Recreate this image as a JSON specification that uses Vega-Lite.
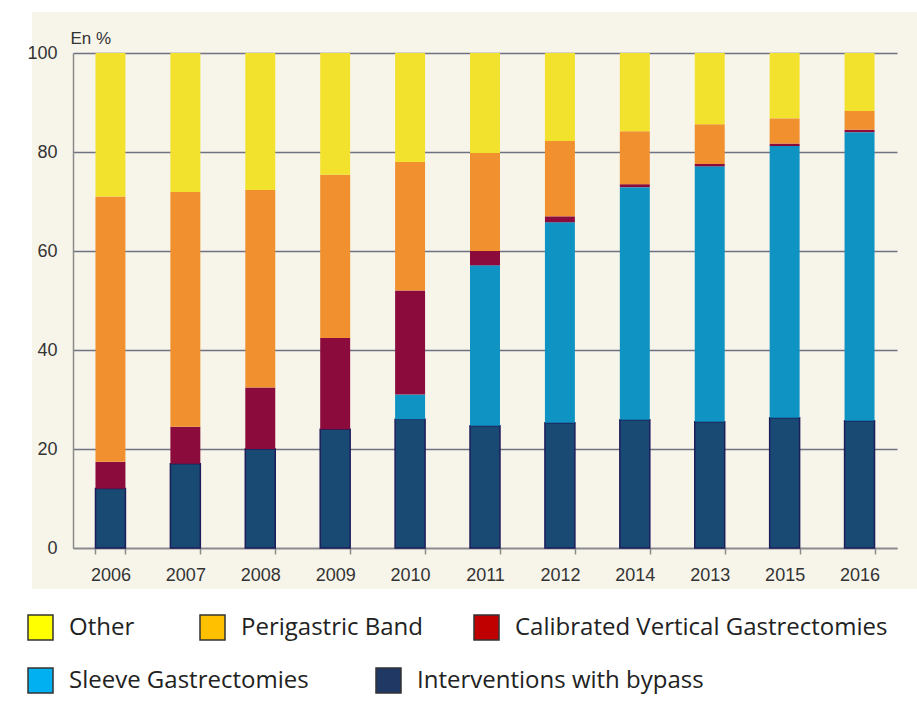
{
  "$schema": "https://vega.github.io/schema/vega-lite/v6.json",
  "width": 824,
  "height": 495,
  "autosize": "none",
  "padding": {"left": 73, "top": 53, "right": 20, "bottom": 170},
  "background": "white",
  "config": {
    "view": {"fill": "#f7f5ea", "stroke": "#f7f5ea", "strokeWidth": 82},
    "font": "Liberation Sans",
    "legend": {
      "padding": 0, "titlePadding": 0, "labelLimit": 600, "title": null, "orient": "none",
      "symbolType": "square", "symbolSize": 625, "labelOffset": 15,
      "symbolStrokeColor": "#333333", "symbolStrokeWidth": 1.5,
      "labelFont": "Open Sans", "labelFontSize": 24, "labelColor": "#222222"
    }
  },
  "data": {
    "values": [
      {"year": "2006", "category": "Interventions with bypass", "value": 12, "order": 1},
      {"year": "2006", "category": "Calibrated Vertical Gastrectomies", "value": 5.4, "order": 3},
      {"year": "2006", "category": "Perigastric Band", "value": 53.6, "order": 4},
      {"year": "2006", "category": "Other", "value": 29, "order": 5},
      {"year": "2007", "category": "Interventions with bypass", "value": 17, "order": 1},
      {"year": "2007", "category": "Calibrated Vertical Gastrectomies", "value": 7.5, "order": 3},
      {"year": "2007", "category": "Perigastric Band", "value": 47.4, "order": 4},
      {"year": "2007", "category": "Other", "value": 28.1, "order": 5},
      {"year": "2008", "category": "Interventions with bypass", "value": 20, "order": 1},
      {"year": "2008", "category": "Calibrated Vertical Gastrectomies", "value": 12.4, "order": 3},
      {"year": "2008", "category": "Perigastric Band", "value": 39.9, "order": 4},
      {"year": "2008", "category": "Other", "value": 27.7, "order": 5},
      {"year": "2009", "category": "Interventions with bypass", "value": 24, "order": 1},
      {"year": "2009", "category": "Calibrated Vertical Gastrectomies", "value": 18.4, "order": 3},
      {"year": "2009", "category": "Perigastric Band", "value": 33, "order": 4},
      {"year": "2009", "category": "Other", "value": 24.6, "order": 5},
      {"year": "2010", "category": "Interventions with bypass", "value": 26, "order": 1},
      {"year": "2010", "category": "Sleeve Gastrectomies", "value": 5, "order": 2},
      {"year": "2010", "category": "Calibrated Vertical Gastrectomies", "value": 21, "order": 3},
      {"year": "2010", "category": "Perigastric Band", "value": 26, "order": 4},
      {"year": "2010", "category": "Other", "value": 22, "order": 5},
      {"year": "2011", "category": "Interventions with bypass", "value": 24.7, "order": 1},
      {"year": "2011", "category": "Sleeve Gastrectomies", "value": 32.4, "order": 2},
      {"year": "2011", "category": "Calibrated Vertical Gastrectomies", "value": 2.9, "order": 3},
      {"year": "2011", "category": "Perigastric Band", "value": 19.8, "order": 4},
      {"year": "2011", "category": "Other", "value": 20.2, "order": 5},
      {"year": "2012", "category": "Interventions with bypass", "value": 25.3, "order": 1},
      {"year": "2012", "category": "Sleeve Gastrectomies", "value": 40.5, "order": 2},
      {"year": "2012", "category": "Calibrated Vertical Gastrectomies", "value": 1.2, "order": 3},
      {"year": "2012", "category": "Perigastric Band", "value": 15.2, "order": 4},
      {"year": "2012", "category": "Other", "value": 17.8, "order": 5},
      {"year": "2014", "category": "Interventions with bypass", "value": 25.9, "order": 1},
      {"year": "2014", "category": "Sleeve Gastrectomies", "value": 47, "order": 2},
      {"year": "2014", "category": "Calibrated Vertical Gastrectomies", "value": 0.6, "order": 3},
      {"year": "2014", "category": "Perigastric Band", "value": 10.7, "order": 4},
      {"year": "2014", "category": "Other", "value": 15.8, "order": 5},
      {"year": "2013", "category": "Interventions with bypass", "value": 25.5, "order": 1},
      {"year": "2013", "category": "Sleeve Gastrectomies", "value": 51.6, "order": 2},
      {"year": "2013", "category": "Calibrated Vertical Gastrectomies", "value": 0.5, "order": 3},
      {"year": "2013", "category": "Perigastric Band", "value": 8, "order": 4},
      {"year": "2013", "category": "Other", "value": 14.4, "order": 5},
      {"year": "2015", "category": "Interventions with bypass", "value": 26.3, "order": 1},
      {"year": "2015", "category": "Sleeve Gastrectomies", "value": 54.9, "order": 2},
      {"year": "2015", "category": "Calibrated Vertical Gastrectomies", "value": 0.5, "order": 3},
      {"year": "2015", "category": "Perigastric Band", "value": 5.1, "order": 4},
      {"year": "2015", "category": "Other", "value": 13.2, "order": 5},
      {"year": "2016", "category": "Interventions with bypass", "value": 25.7, "order": 1},
      {"year": "2016", "category": "Sleeve Gastrectomies", "value": 58.3, "order": 2},
      {"year": "2016", "category": "Calibrated Vertical Gastrectomies", "value": 0.5, "order": 3},
      {"year": "2016", "category": "Perigastric Band", "value": 3.8, "order": 4},
      {"year": "2016", "category": "Other", "value": 11.7, "order": 5}
    ]
  },
  "transform": [
    {"stack": "value", "groupby": ["year"], "sort": [{"field": "order", "order": "ascending"}], "as": ["v0", "v1"]}
  ],
  "encoding": {
    "x": {
      "field": "year", "type": "nominal",
      "sort": ["2006", "2007", "2008", "2009", "2010", "2011", "2012", "2014", "2013", "2015", "2016"],
      "scale": {"paddingInner": 0.6, "paddingOuter": 0.3},
      "axis": {
        "title": null, "labelAngle": 0, "grid": false,
        "domainColor": "#8a8a8a", "domainWidth": 1.5,
        "ticks": true, "tickBand": "extent", "tickSize": 6, "tickColor": "#8a8a8a", "tickWidth": 1.5,
        "labelFontSize": 18, "labelColor": "#333333", "labelPadding": 12, "labelFont": "Liberation Sans"
      }
    },
    "y": {
      "field": "v0", "type": "quantitative",
      "scale": {"domain": [0, 100], "nice": false},
      "axis": {
        "title": "En %", "titleAngle": 0, "titleAlign": "left", "titleBaseline": "alphabetic",
        "titleX": -3, "titleY": -10, "titleFontSize": 17, "titleFontWeight": "normal", "titleColor": "#333333",
        "titleFont": "Liberation Sans",
        "values": [0, 20, 40, 60, 80, 100],
        "grid": true, "gridColor": "#6e7282", "gridWidth": 1.5,
        "domain": true, "domainColor": "#8a8a8a", "domainWidth": 1.5,
        "ticks": false, "labelPadding": 16,
        "labelFontSize": 18, "labelColor": "#333333", "labelFont": "Liberation Sans"
      }
    },
    "y2": {"field": "v1"}
  },
  "layer": [
    {
      "transform": [{"filter": "datum.category === 'Interventions with bypass'"}],
      "mark": {"type": "bar", "fill": "#184a73", "stroke": "#1d1d5c", "strokeWidth": 1.5}
    },
    {
      "transform": [{"filter": "datum.category === 'Sleeve Gastrectomies'"}],
      "mark": {"type": "bar", "fill": "#0f93c2"}
    },
    {
      "transform": [{"filter": "datum.category === 'Calibrated Vertical Gastrectomies'"}],
      "mark": {"type": "bar", "fill": "#8b0c3c"}
    },
    {
      "transform": [{"filter": "datum.category === 'Perigastric Band'"}],
      "mark": {"type": "bar", "fill": "#f0902e"}
    },
    {
      "transform": [{"filter": "datum.category === 'Other'"}],
      "mark": {"type": "bar", "fill": "#f2e22e"}
    },
    {
      "transform": [{"filter": "datum.category === 'Other'"}],
      "mark": {"type": "bar"},
      "encoding": {
        "y2": {"field": "v0"},
        "color": {
          "field": "category", "type": "nominal",
          "scale": {"range": ["#ffff00"]},
          "legend": {"legendX": -46, "legendY": 561}
        }
      }
    },
    {
      "transform": [{"filter": "datum.category === 'Perigastric Band'"}],
      "mark": {"type": "bar"},
      "encoding": {
        "y2": {"field": "v0"},
        "color": {
          "field": "category", "type": "nominal",
          "scale": {"range": ["#ffc000"]},
          "legend": {"legendX": 126, "legendY": 561}
        }
      }
    },
    {
      "transform": [{"filter": "datum.category === 'Calibrated Vertical Gastrectomies'"}],
      "mark": {"type": "bar"},
      "encoding": {
        "y2": {"field": "v0"},
        "color": {
          "field": "category", "type": "nominal",
          "scale": {"range": ["#c00000"]},
          "legend": {"legendX": 400, "legendY": 561}
        }
      }
    },
    {
      "transform": [{"filter": "datum.category === 'Sleeve Gastrectomies'"}],
      "mark": {"type": "bar"},
      "encoding": {
        "y2": {"field": "v0"},
        "color": {
          "field": "category", "type": "nominal",
          "scale": {"range": ["#00b0f0"]},
          "legend": {"legendX": -46, "legendY": 614}
        }
      }
    },
    {
      "transform": [{"filter": "datum.category === 'Interventions with bypass'"}],
      "mark": {"type": "bar"},
      "encoding": {
        "y2": {"field": "v0"},
        "color": {
          "field": "category", "type": "nominal",
          "scale": {"range": ["#1f3864"]},
          "legend": {"legendX": 302, "legendY": 614}
        }
      }
    }
  ],
  "resolve": {"scale": {"color": "independent"}}
}
